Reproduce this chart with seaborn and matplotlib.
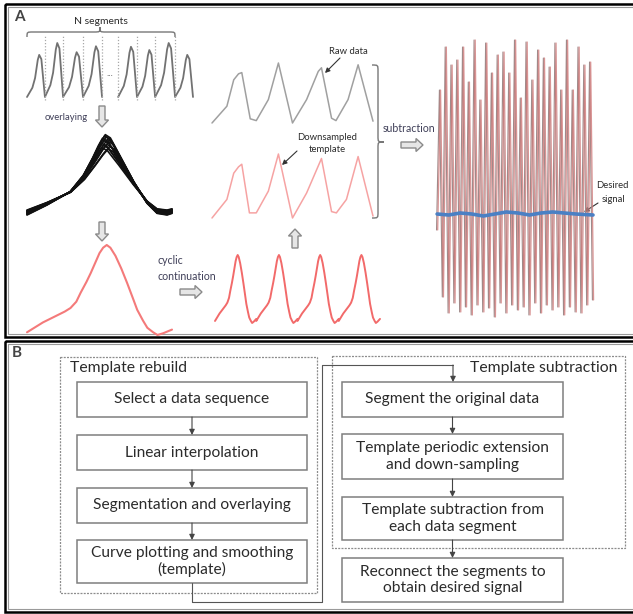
import matplotlib.pyplot as plt
import matplotlib.patches as mpatches
from matplotlib.path import Path
import numpy as np
import pandas as pd
import seaborn as sns

W, H = 633, 614

# ---- panel A data ----
# top-left: N segments, each segment edge in time units
seg_edges = [0, 0.98, 1.97, 3.06, 4.1, 4.98, 6.01, 7.0, 8.09, 9.07]
seg_shape_t = [0, 0.3, 0.45, 0.6, 0.68, 0.8, 1.0]
seg_shape_v = [0, 0.22, 0.45, 0.88, 1.0, 0.9, 0]
seg_peaks = [0.78, 1.0, 0.83, 0.94, 0.93, 0.87, 1.0, 0.78]

# overlaid segments (one base curve, members differ in height / tilt)
bundle_t = [0, 0.138, 0.299, 0.391, 0.46, 0.506, 0.54, 0.575, 0.644, 0.736, 0.828, 0.897, 0.966, 1.0]
bundle_v = [0, 0.122, 0.286, 0.49, 0.714, 0.878, 0.98, 0.94, 0.714, 0.408, 0.143, 0.02, 0, 0.02]
member_amp = [0.76, 0.78, 0.8, 0.82, 0.84, 0.86, 0.88, 0.9, 0.92, 0.94, 0.96, 0.98, 1.0]
member_off = [0.06, 0.055, 0.05, 0.045, 0.04, 0.035, 0.03, 0.025, 0.02, 0.015, 0.01, 0.005, 0.0]
member_shift = [0.02, -0.025, 0.03, -0.015, 0.01, -0.03, 0.025, -0.01, 0.015, -0.02, 0.005, -0.005, 0.0]

# smoothed template (one period)
template_t = [0, 0.06, 0.11, 0.16, 0.21, 0.26, 0.30, 0.34, 0.37, 0.41, 0.44, 0.47, 0.50, 0.525, 0.55,
              0.575, 0.61, 0.65, 0.69, 0.73, 0.76, 0.80, 0.83, 0.87, 0.90, 0.94, 1.0]
template_v = [0.03, 0.09, 0.14, 0.18, 0.22, 0.26, 0.30, 0.37, 0.47, 0.59, 0.69, 0.80, 0.91, 0.97, 1.0,
              0.97, 0.88, 0.74, 0.58, 0.41, 0.28, 0.16, 0.08, 0.03, 0.0, 0.02, 0.06]
n_cycles = 4

# raw data and down-sampled template
raw_t = [0, 0.37, 0.54, 0.66, 0.74, 0.95, 1.1, 1.4, 1.65, 2.0, 2.35, 2.64, 2.72, 2.97, 3.08, 3.38, 3.63, 4.0]
raw_v = [0, 0.28, 0.72, 0.82, 0.84, 0.07, 0.04, 0.39, 1.0, 0.0, 0.39, 0.86, 0.92, 0.08, 0.04, 0.39, 0.97, 0.03]
down_t = [0, 0.37, 0.54, 0.66, 0.74, 0.93, 1.1, 1.4, 1.65, 2.0, 2.35, 2.72, 2.97, 3.09, 3.34, 3.63, 4.0]
down_v = [0, 0.29, 0.70, 0.80, 0.84, 0.08, 0.08, 0.42, 1.0, 0, 0.39, 0.93, 0.10, 0.08, 0.29, 0.96, 0.03]

# result of the subtraction: spike tops / bottoms and the desired signal
first_sample = -17
spike_top = [123, 166, 148, 153, 166, 131, 173, 113, 170, 140, 158, 161, 140, 173,
             115, 171, 133, 163, 155, 146, 170, 123, 173, 123, 166, 148, 151]
spike_bottom = [-84, -100, -90, -99, -94, -102, -92, -99, -95, -104, -90, -100, -92, -97,
                -94, -102, -90, -100, -92, -97, -94, -102, -94, -99, -100, -92, -87]
desired_t = [-0.5, 1.5, 3.5, 5.5, 7.5, 9.5, 11.5, 13.5, 15.5, 17.5, 19.5, 21.5, 23.5, 26.5]
desired_v = [-1, -2, 0, -1, -3, -1, 1, 0, -2, 0, 1, 0, -1, -2]

# ---- panel B text ----
rebuild_steps = ['Select a data sequence', 'Linear interpolation',
                 'Segmentation and overlaying', 'Curve plotting and smoothing\n(template)']
subtract_steps = ['Segment the original data', 'Template periodic extension\nand down-sampling',
                  'Template subtraction from\neach data segment']
final_step = 'Reconnect the segments to\nobtain desired signal'

sns.set_theme(style='white')
plt.rcParams['font.family'] = ['Lato', 'DejaVu Sans']

fig = plt.figure(figsize=(W / 100, H / 100), dpi=100)
base = fig.add_axes([0, 0, 1, 1])
base.set_xlim(0, W)
base.set_ylim(H, 0)
base.set_axis_off()

TXT = '#2b2b2b'
NOTE = '#3f3f58'


def inset(px0, px1, py_top, py_bot, xr, yr, pad=14):
    # axes in which data range xr x yr lands on the given pixel box
    sx = (xr[1] - xr[0]) / (px1 - px0)
    sy = (yr[1] - yr[0]) / (py_bot - py_top)
    ax = fig.add_axes([(px0 - pad) / W, 1 - (py_bot + pad) / H,
                       (px1 - px0 + 2 * pad) / W, (py_bot - py_top + 2 * pad) / H])
    ax.set_axis_off()
    lims = dict(xlim=(xr[0] - pad * sx, xr[1] + pad * sx), ylim=(yr[0] - pad * sy, yr[1] + pad * sy))
    return ax, lims


def block_arrow(x, y, dx, dy):
    base.add_patch(mpatches.FancyArrow(x, y, dx, dy, width=6, head_width=13, head_length=7,
                                       length_includes_head=True, fc='#e6e6e6', ec='#8a8a8a', lw=1))


def line_arrow(x0, y0, x1, y1, color='#333333', lw=0.8, ms=7):
    base.annotate('', xy=(x1, y1), xytext=(x0, y0),
                  arrowprops=dict(arrowstyle='-|>', color=color, lw=lw, mutation_scale=ms,
                                  shrinkA=0, shrinkB=0))


def brace(p0, p1, tip, c, h, vertical=False):
    r = 6
    pts = [(p0, c + h), (p0, c), (p0, c), (p0 + r, c), (tip - r, c),
           (tip, c), (tip, c), (tip, c - h), (tip, c), (tip, c), (tip + r, c),
           (p1 - r, c), (p1, c), (p1, c), (p1, c + h)]
    codes = [Path.MOVETO, Path.CURVE4, Path.CURVE4, Path.CURVE4, Path.LINETO,
             Path.CURVE4, Path.CURVE4, Path.CURVE4, Path.CURVE4, Path.CURVE4, Path.CURVE4,
             Path.LINETO, Path.CURVE4, Path.CURVE4, Path.CURVE4]
    if vertical:
        pts = [(b, a) for a, b in pts]
    base.add_patch(mpatches.PathPatch(Path(pts, codes), fc='none', ec='#777777', lw=1))


# ---- frames ----
for y0, y1 in [(4, 337), (341, 612)]:
    base.add_patch(mpatches.Rectangle((5, y0), 660, y1 - y0, fill=False, ec='black', lw=1.8))
    base.add_patch(mpatches.Rectangle((8, y0 + 3), 660, y1 - y0 - 6, fill=False, ec='#9a9a9a', lw=0.8))
base.text(14, 17, 'A', fontsize=11, fontweight='bold', color='#444444', va='center')
base.text(12, 353, 'B', fontsize=11, fontweight='bold', color='#444444', va='center')

# ---- N segments ----
ax, lims = inset(27, 193, 43, 97, (0, 9.07), (0, 1))
for group in [range(0, 4), range(4, 8)]:
    ts, vs = [], []
    for i in group:
        left = seg_edges[i] if i < 4 else seg_edges[i + 1]
        right = seg_edges[i + 1] if i < 4 else seg_edges[i + 2]
        ts += [left + s * (right - left) for s in seg_shape_t]
        vs += [v * seg_peaks[i] for v in seg_shape_v]
    sns.lineplot(x=ts, y=vs, ax=ax, sort=False, estimator=None, color='#727272', lw=1.3)
ax.vlines(seg_edges[1:-1], -0.05, 1.15, colors='#a8a8a8', linestyles=(0, (1, 1.5)), lw=0.9)
ax.set(**lims)
base.text(110, 74, '...', ha='center', va='center', fontsize=7, color='#555555')
brace(27, 175, 100, 32, 5)
base.text(101, 22, 'N segments', ha='center', va='center', fontsize=7.5, color=TXT)

# ---- overlaying ----
block_arrow(102, 106, 0, 21)
base.text(66, 118, 'overlaying', ha='center', va='center', fontsize=6.8, color=NOTE)
rows = []
for m, (a, o, s) in enumerate(zip(member_amp, member_off, member_shift)):
    for t, v in zip(bundle_t, bundle_v):
        rows.append(dict(t=t + s * v * v, v=v * a + o, member=m))
bundle = pd.DataFrame(rows)
ax, lims = inset(27, 172, 133, 215, (0, 1), (0, 1))
sns.lineplot(data=bundle, x='t', y='v', units='member', estimator=None, sort=False,
             color='#111111', lw=1.2, ax=ax, legend=False)
ax.set(**lims)

# ---- template ----
block_arrow(102, 222, 0, 19)
ax, lims = inset(27, 172, 245, 335, (0, 1), (0, 1))
sns.lineplot(x=template_t, y=template_v, ax=ax, sort=False, estimator=None, color='#f47a7a', lw=1.5)
ax.set(**lims)

base.text(157, 260, 'cyclic', ha='left', va='center', fontsize=7.6, color=NOTE)
base.text(157, 276, 'continuation', ha='left', va='center', fontsize=7.6, color=NOTE)
block_arrow(180, 292, 22, 0)

# ---- cyclic continuation ----
cyc_t = [t + k for k in range(n_cycles) for t in template_t]
cyc_v = template_v * n_cycles
ax, lims = inset(215, 380, 255, 323, (0, n_cycles), (0, 1))
sns.lineplot(x=cyc_t, y=cyc_v, ax=ax, sort=False, estimator=None, color='#f26a6a', lw=1.4)
ax.set(**lims)
block_arrow(295, 248, 0, -19)

# ---- raw data / downsampled template ----
ax, lims = inset(212, 373, 63, 123, (0, 4), (0, 1))
sns.lineplot(x=raw_t, y=raw_v, ax=ax, sort=False, estimator=None, color='#a0a0a0', lw=1.1)
ax.set(**lims)
ax, lims = inset(212, 373, 154, 218, (0, 4), (0, 1))
sns.lineplot(x=down_t, y=down_v, ax=ax, sort=False, estimator=None, color='#f6a3a3', lw=1.1)
ax.set(**lims)

base.text(348, 52, 'Raw data', ha='center', va='center', fontsize=6.8, color=TXT)
line_arrow(340, 58, 325, 73)
base.text(327, 137, 'Downsampled', ha='center', va='center', fontsize=6.8, color=TXT)
base.text(327, 149, 'template', ha='center', va='center', fontsize=6.8, color=TXT)
line_arrow(297, 151, 282, 165)
brace(65, 218, 142, 378, -6, vertical=True)
base.text(383, 129, 'subtraction', ha='left', va='center', fontsize=7.6, color=NOTE)
block_arrow(401, 145, 22, 0)

# ---- result of subtraction ----
zig_t = [-0.5] + [x for i in range(len(spike_top)) for x in (i, i + 0.5)]
zig_v = [first_sample] + [v for pair in zip(spike_top, spike_bottom) for v in pair]
ax, lims = inset(440, 593, 40, 317, (0, 26.5), (-104, 173))
sns.lineplot(x=np.array(zig_t) - 0.1, y=zig_v, ax=ax, sort=False, estimator=None,
             color='#a08a8a', lw=0.8)
sns.lineplot(x=np.array(zig_t) + 0.1, y=zig_v, ax=ax, sort=False, estimator=None,
             color='#d07a7a', lw=0.9, alpha=0.8)
sns.lineplot(x=desired_t, y=desired_v, ax=ax, sort=False, estimator=None, color='#4a80c4', lw=2.6)
ax.set(**lims)
base.text(612, 186, 'Desired', ha='center', va='center', fontsize=6.8, color=TXT)
base.text(614, 199, 'signal', ha='center', va='center', fontsize=6.8, color=TXT)
line_arrow(598, 203, 584, 212)

# ---- panel B: flow chart ----
dash = (0, (1.6, 1.0))
base.add_patch(mpatches.Rectangle((60, 357), 257, 236, fill=False, ec='#8c8c8c', lw=0.9, ls=dash))
base.add_patch(mpatches.Rectangle((332, 356), 293, 192, fill=False, ec='#8c8c8c', lw=0.9, ls=dash))
base.text(70, 368, 'Template rebuild', ha='left', va='center', fontsize=11.3, color=TXT)
base.text(618, 368, 'Template subtraction', ha='right', va='center', fontsize=11.3, color=TXT)

left_rows = [(382, 417), (435, 470), (488, 523), (540, 583)]
right_rows = [(382, 417), (434, 479), (497, 540), (558, 602)]


def step_boxes(x0, x1, rows, labels):
    for (y0, y1), label in zip(rows, labels):
        base.add_patch(mpatches.Rectangle((x0, y0), x1 - x0, y1 - y0, fill=False, ec='#7f7f7f', lw=1.1))
        base.text((x0 + x1) / 2, (y0 + y1) / 2, label, ha='center', va='center',
                  fontsize=11.2, color=TXT, linespacing=1.2)
    xc = (x0 + x1) / 2
    for (_, y_end), (y_next, _) in zip(rows[:-1], rows[1:]):
        line_arrow(xc, y_end, xc, y_next, color='#444444', ms=8)


step_boxes(77, 307, left_rows, rebuild_steps)
step_boxes(342, 563, right_rows, subtract_steps + [final_step])

base.plot([192, 192, 322, 322, 453], [583, 602, 602, 365, 365], color='#555555', lw=0.8)
line_arrow(453, 365, 453, 382, color='#444444', ms=8)

fig.savefig('out.png', dpi=100)
